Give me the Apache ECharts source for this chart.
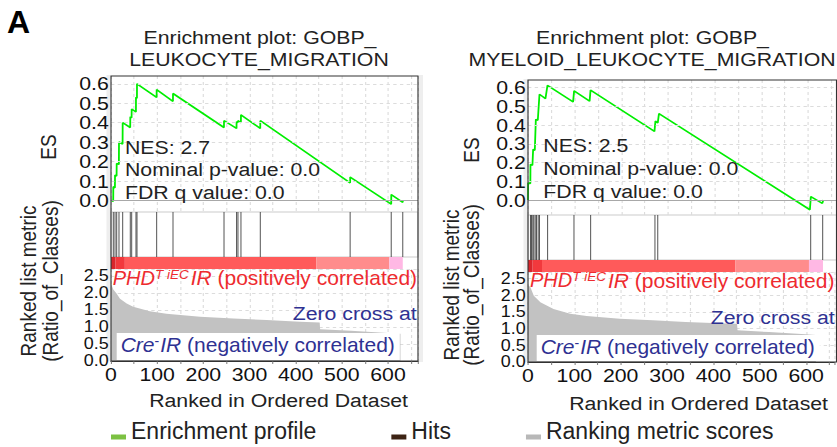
<!DOCTYPE html>
<html><head><meta charset="utf-8">
<script src="https://cdn.jsdelivr.net/npm/echarts@6/dist/echarts.min.js"></script>
<style>
html,body{margin:0;padding:0;background:#fff;}
#wrap{position:relative;width:837px;height:447px;overflow:hidden;background:#fff;}
#main{position:absolute;left:0;top:0;width:748px;height:447px;transform:scaleX(1.12);transform-origin:0 0;}
#over{position:absolute;left:0;top:0;width:837px;height:447px;pointer-events:none;}
</style></head><body>
<div id="wrap"><div id="main"></div><div id="over"></div></div>
<script>
// ---------------- data ----------------
const xTickLabels = [0, 100, 200, 300, 400, 500, 600];
const esTickLabels = [0.0, 0.1, 0.2, 0.3, 0.4, 0.5, 0.6];
const metricTickLabels = [0.0, 0.5, 1.0, 1.5, 2.0, 2.5];

// Left: GOBP_LEUKOCYTE_MIGRATION
const esLeft = [[0,0],[4.8,-0.005],[5,0.07],[8.5,0.065],[8.7,0.13],[12.1,0.125],[12.3,0.19],[17.1,0.185],[17.3,0.30],[25.1,0.29],[25.3,0.40],[41.6,0.375],[41.8,0.43],[44.6,0.425],[44.8,0.47],[54,0.455],[54.1,0.53],[56.2,0.525],[56.3,0.60],[98.8,0.53],[98.9,0.57],[134.2,0.51],[134.3,0.55],[244.7,0.375],[244.8,0.41],[271.9,0.37],[272,0.405],[274.9,0.40],[275,0.41],[281.4,0.40],[281.5,0.44],[323.3,0.37],[323.4,0.41],[518,0.09],[518.1,0.12],[607,-0.02],[607.1,0.03],[632,-0.01],[632.1,0.0]];
const hitsLeft = [5,8.7,12.3,17.3,25.3,41.8,44.8,54.1,56.3,98.9,134.3,244.8,272,275,281.5,323.4,518,607,632];
const metricLeft = [[0,2.25],[2,2.2],[5,2.1],[12,1.98],[19.5,1.83],[34,1.69],[48,1.59],[84,1.46],[120,1.39],[193,1.30],[265,1.25],[337,1.20],[409,1.15],[452,1.13],[453,0.93],[520,0.89],[590,0.83],[627,0.80]];
const barLeft = [[0,10,0],[10,30,1],[30,445,2],[445,603,3],[603,632,4]];
const statsLeft = ['NES: 2.7', 'Nominal p-value: 0.0', 'FDR q value: 0.0'];

// Right: GOBP_MYELOID_LEUKOCYTE_MIGRATION
const esRight = [[0,0],[0.3,0.09],[5,0.088],[5.3,0.19],[9.5,0.185],[11,0.27],[14.6,0.265],[16.8,0.43],[21,0.425],[24.6,0.564],[37.4,0.541],[41.7,0.611],[96.6,0.523],[98.8,0.582],[132,0.527],[134,0.586],[271,0.366],[273,0.421],[278,0.411],[280.6,0.461],[604,-0.052],[606,0.018],[630.6,-0.018],[632.8,0.0]];
const hitsRight = [5.3,7.5,10.3,12.4,15.4,18.2,21.8,24.6,42,98.5,134.2,272,278,605.7,631.4];
const metricRight = [[0,2.3],[5,2.25],[12.5,1.99],[26.7,1.79],[55,1.59],[91,1.45],[126.6,1.38],[198,1.30],[269,1.25],[340,1.20],[412,1.16],[451,1.15],[452,0.95],[520,0.90],[590,0.84],[621,0.81]];
const barRight = [[0,10,0],[10,30,1],[30,444,2],[444,602,3],[602,632,4]];
const statsRight = ['NES: 2.5', 'Nominal p-value: 0.0', 'FDR q value: 0.0'];

const legendNames = ['Enrichment profile', 'Hits', 'Ranking metric scores'];

// ---------------- styles / layout ----------------
const S = 1.12;                 // horizontal stretch of the original GSEA panels
const px = v => v / S;
const FONT = '"Liberation Sans", Arial, Helvetica, sans-serif';
const barColors = ['#d8262c', '#f2393d', '#ff5a5a', '#ff8c8c', '#ffb8e4'];
const GRID_C = '#dcdcdc';

const panels = [
  { x0:111, x1:418, esY:[76,212], hitsY:[212,257], barY:[257,269], metY:[269,361], xMax:665, esMin:-0.06, esMax:0.64,
    esData:esLeft, hitData:hitsLeft, metric:metricLeft, bars:barLeft, stats:statsLeft, statX:125, statY:[147,169.5,192.5],
    title:['Enrichment plot: GOBP_','LEUKOCYTE_MIGRATION'], titleX:[260,259],
    esLab:[48.5,147], rank1:[29,281], rank2:[51,281], xName:[408,400], zero:[292.7,313] },
  { x0:528, x1:836.5, esY:[80,215], hitsY:[215,260], barY:[260,272], metY:[272,362], xMax:661, esMin:-0.08, esMax:0.64,
    esData:esRight, hitData:hitsRight, metric:metricRight, bars:barRight, stats:statsRight, statX:543.3, statY:[145,168,191],
    title:['Enrichment plot: GOBP_','MYELOID_LEUKOCYTE_MIGRATION'], titleX:[652.5,652],
    esLab:[471.5,150], rank1:[452,285], rank2:[472,285], xName:[828,403], zero:[710.7,317.5] }
];

const near = (a, b) => Math.abs(a - b) < 1e-6;
const fmtES = v => { const t = esTickLabels.find(t => near(t, v)); return t === undefined ? '' : t.toFixed(1); };
const fmtMet = v => { const t = metricTickLabels.find(t => near(t, v)); return t === undefined ? '' : t.toFixed(1); };
const fmtMetMin = v => near(v, metricTickLabels[0]) ? metricTickLabels[0].toFixed(1) : '';
const fmtX = v => { const t = xTickLabels.find(t => near(t, v)); return t === undefined ? '' : String(t); };

const grid = [], xAxis = [], yAxis = [], extraY = [], series = [], graphic = [];
const lblStyle = { fontSize:19, lineHeight:14, color:'#111', fontFamily:FONT };
const metLbl = { fontSize:16, lineHeight:12, color:'#111', fontFamily:FONT };

panels.forEach((p, k) => {
  const base = k * 4;
  [p.esY, p.hitsY, p.barY, p.metY].forEach((yy, j) => {
    grid.push({ left:px(p.x0), top:yy[0], width:px(p.x1 - p.x0), height:yy[1]-yy[0],
      show: j === 1, borderColor:'#cccccc', borderWidth:1, backgroundColor:'transparent' });
    const isMet = j === 3, withGrid = (j === 0 || j === 3);
    xAxis.push({ gridIndex:base+j, type:'value', min:0, max:p.xMax, interval:50,
      axisLine:{ show:isMet, lineStyle:{ color:'#333' } },
      axisTick:{ show:isMet, length:3, lineStyle:{ color:'#888' } },
      axisLabel:{ show:isMet, formatter:fmtX, margin:6, showMinLabel:true, ...lblStyle },
      splitLine:{ show:withGrid, lineStyle:{ color:GRID_C, type:[3,3], width:1 } } });
  });
  yAxis.push({ gridIndex:base, type:'value', min:p.esMin, max:p.esMax, interval:0.02,
    axisLine:{show:false}, axisTick:{show:false}, splitLine:{show:false},
    axisLabel:{ formatter:fmtES, margin:2, ...lblStyle } });
  yAxis.push({ gridIndex:base+1, type:'value', min:0, max:1, show:false });
  yAxis.push({ gridIndex:base+2, type:'value', min:0, max:1, show:false });
  yAxis.push({ gridIndex:base+3, type:'value', min:0, max:2.7, interval:0.5,
    axisLine:{show:false}, axisTick:{show:false},
    splitLine:{ show:true, lineStyle:{ color:GRID_C, type:[3,3], width:1 } },
    axisLabel:{ formatter:fmtMet, margin:2, showMinLabel:false, showMaxLabel:false, ...metLbl } });
  // second axis on the metric grid that carries only the 0.0 label (so that 0.0 and 0.5 both stay)
  extraY.push({ gridIndex:base+3, type:'value', position:'left', offset:0, min:0, max:2.7, interval:2.7,
    axisLine:{show:false}, axisTick:{show:false}, splitLine:{show:false},
    axisLabel:{ formatter:fmtMetMin, margin:2, showMinLabel:true, showMaxLabel:false, ...metLbl } });

  // ES horizontal gridlines
  series.push({ type:'line', xAxisIndex:base, yAxisIndex:base, data:[[0,0]], showSymbol:false, symbol:'none',
    lineStyle:{ opacity:0 }, silent:true, z:1,
    markLine:{ symbol:['none','none'], silent:true, animation:false, label:{show:false},
      lineStyle:{ color:GRID_C, type:[3,3], width:1 },
      data: esTickLabels.filter(t => t !== 0).map(t => ({ yAxis:t }))
        .concat([{ yAxis:0, lineStyle:{ color:'#a8a8a8', type:'solid', width:1 } }]) } });
  // Enrichment profile
  series.push({ name:legendNames[0], type:'line', xAxisIndex:base, yAxisIndex:base, data:p.esData,
    symbol:'none', lineStyle:{ color:'#00ee00', width:1.6 }, z:3, silent:true });
  // Hits
  series.push({ name:legendNames[1], type:'custom', xAxisIndex:base+1, yAxisIndex:base+1,
    data:p.hitData.map(v => [v, 0]), encode:{ x:0, y:1 }, silent:true,
    renderItem:(params, api) => {
      const a = api.coord([api.value(0), 0]), b = api.coord([api.value(0), 1]);
      return { type:'line', shape:{ x1:a[0], y1:a[1], x2:b[0], y2:b[1] }, style:{ stroke:'#2a2a2a', lineWidth:0.9, opacity:0.8 } };
    } });
  // Color bar
  series.push({ type:'custom', xAxisIndex:base+2, yAxisIndex:base+2, data:p.bars, encode:{ x:[0,1] }, silent:true,
    renderItem:(params, api) => {
      const a = api.coord([api.value(0), 1]), b = api.coord([api.value(1), 0]);
      return { type:'rect', shape:{ x:a[0], y:a[1], width:b[0]-a[0], height:b[1]-a[1] }, style:{ fill:barColors[api.value(2)] } };
    } });
  // Ranking metric
  series.push({ name:legendNames[2], type:'line', xAxisIndex:base+3, yAxisIndex:base+3, data:p.metric,
    symbol:'none', lineStyle:{ width:0, color:'#bdbdbd' }, areaStyle:{ color:'#c2c2c2', opacity:1 }, silent:true, z:2 });

  // ----- text & frame graphics (stretched panel) -----
  const txt = (text, x, y, opt = {}) => ({ type:'text', x:px(x), y:y, rotation:opt.rot || 0, z:opt.z || 50, silent:true,
    style:{ text, fill:opt.color || '#222', font:`${opt.size || 19}px ${FONT}`,
      textAlign:opt.align || 'center', textVerticalAlign:'middle', verticalAlign:'middle' } });
  graphic.push(txt(p.title[0], p.titleX[0], 37));
  graphic.push(txt(p.title[1], p.titleX[1], 59));
  p.stats.forEach((s, i) => graphic.push(txt(s, p.statX, p.statY[i], { align:'left' })));
  graphic.push(txt('ES', p.esLab[0], p.esLab[1], { rot:Math.PI/2 }));
  graphic.push(txt('Ranked list metric', p.rank1[0], p.rank1[1], { rot:Math.PI/2 }));
  graphic.push(txt('(Ratio_of_Classes)', p.rank2[0], p.rank2[1], { rot:Math.PI/2 }));
  graphic.push(txt('Ranked in Ordered Dataset', p.xName[0], p.xName[1], { align:'right' }));
  graphic.push(txt('Zero cross at', p.zero[0], p.zero[1], { align:'left', color:'#2e3192' }));
  graphic.push({ type:'rect', z:100, silent:true, shape:{ x:px(p.x0), y:p.esY[0], width:px(p.x1-p.x0), height:p.metY[1]-p.esY[0] },
    style:{ fill:'transparent', stroke:'#333', lineWidth:1 } });
  graphic.push({ type:'rect', z:-10, silent:true, shape:{ x:px(p.x0-4.5), y:p.esY[0]-1, width:px(4), height:p.metY[1]-p.esY[0]+1 },
    style:{ fill:'#eeeeee' } });
});
graphic.push({ type:'rect', z:-10, silent:true, shape:{ x:px(419), y:75, width:px(4), height:287 }, style:{ fill:'#eeeeee' } });

const main = echarts.init(document.getElementById('main'), null, { renderer:'svg' });
main.setOption({ animation:false, backgroundColor:'transparent', textStyle:{ fontFamily:FONT },
  grid, xAxis, yAxis: yAxis.concat(extraY), series, graphic });

// ---------------- overlay: panel letter, class labels, legend ----------------
const over = echarts.init(document.getElementById('over'), null, { renderer:'svg' });
const ICON = 'path://M0,0L15,0L0,0ZM0,12L15,12L15,17L0,17Z';
const RED = '#ee2b2f', BLUE = '#2e3192';
const posLabel = (x, y) => ({ type:'text', x, y, z:60, silent:true, style:{
  text:'{i|PHD}{s|T iEC}{j|IR}{n| (positively correlated)}', textAlign:'left', textVerticalAlign:'middle', verticalAlign:'middle',
  rich:{ i:{ fontSize:20, fontStyle:'italic', fill:RED, color:RED, fontFamily:FONT },
         s:{ fontSize:13.5, fontStyle:'italic', fill:RED, color:RED, fontFamily:FONT, verticalAlign:'top' },
         j:{ fontSize:21, fontStyle:'italic', fill:RED, color:RED, fontFamily:FONT, padding:[0,0,0,2] },
         n:{ fontSize:21, fill:RED, color:RED, fontFamily:FONT } } } });
const negLabel = (x, y, pb) => ({ type:'text', x, y, z:60, silent:true, style:{
  text:'{i|Cre}{s|-}{j|IR}{n| (negatively correlated)}', textAlign:'left', textVerticalAlign:'top', verticalAlign:'top',
  backgroundColor:'#ffffff', padding:[1,5,pb,4],
  rich:{ i:{ fontSize:21, fontStyle:'italic', fill:BLUE, color:BLUE, fontFamily:FONT },
         s:{ fontSize:14, fill:BLUE, color:BLUE, fontFamily:FONT, verticalAlign:'top' },
         j:{ fontSize:21, fontStyle:'italic', fill:BLUE, color:BLUE, fontFamily:FONT, padding:[0,0,0,1] },
         n:{ fontSize:21, fill:BLUE, color:BLUE, fontFamily:FONT } } } });
over.setOption({
  animation:false, backgroundColor:'transparent',
  grid:{ show:false, left:0, top:0, width:1, height:1 },
  xAxis:{ type:'value', show:false }, yAxis:{ type:'value', show:false },
  legend:{ left:111, top:419.5, padding:0, itemGap:75, itemWidth:15, itemHeight:17, selectedMode:false,
    textStyle:{ fontSize:23, color:'#222', fontFamily:FONT },
    data: legendNames.map(n => ({ name:n, icon:ICON })) },
  series:[
    { name:legendNames[0], type:'line', data:[], color:'#7cc142', itemStyle:{ color:'#7cc142' } },
    { name:legendNames[1], type:'line', data:[], color:'#3d2314', itemStyle:{ color:'#3d2314' } },
    { name:legendNames[2], type:'line', data:[], color:'#b8b8b8', itemStyle:{ color:'#b8b8b8' } }
  ],
  graphic:[
    { type:'text', x:18.5, y:22, silent:true, style:{ text:'A', font:`bold 32px ${FONT}`, fill:'#000', textAlign:'center', textVerticalAlign:'middle', verticalAlign:'middle' } },
    posLabel(112.7, 277.5), posLabel(530, 280),
    negLabel(116.7, 333, 5), negLabel(536.7, 335, 4)
  ]
});
</script>
</body></html>
